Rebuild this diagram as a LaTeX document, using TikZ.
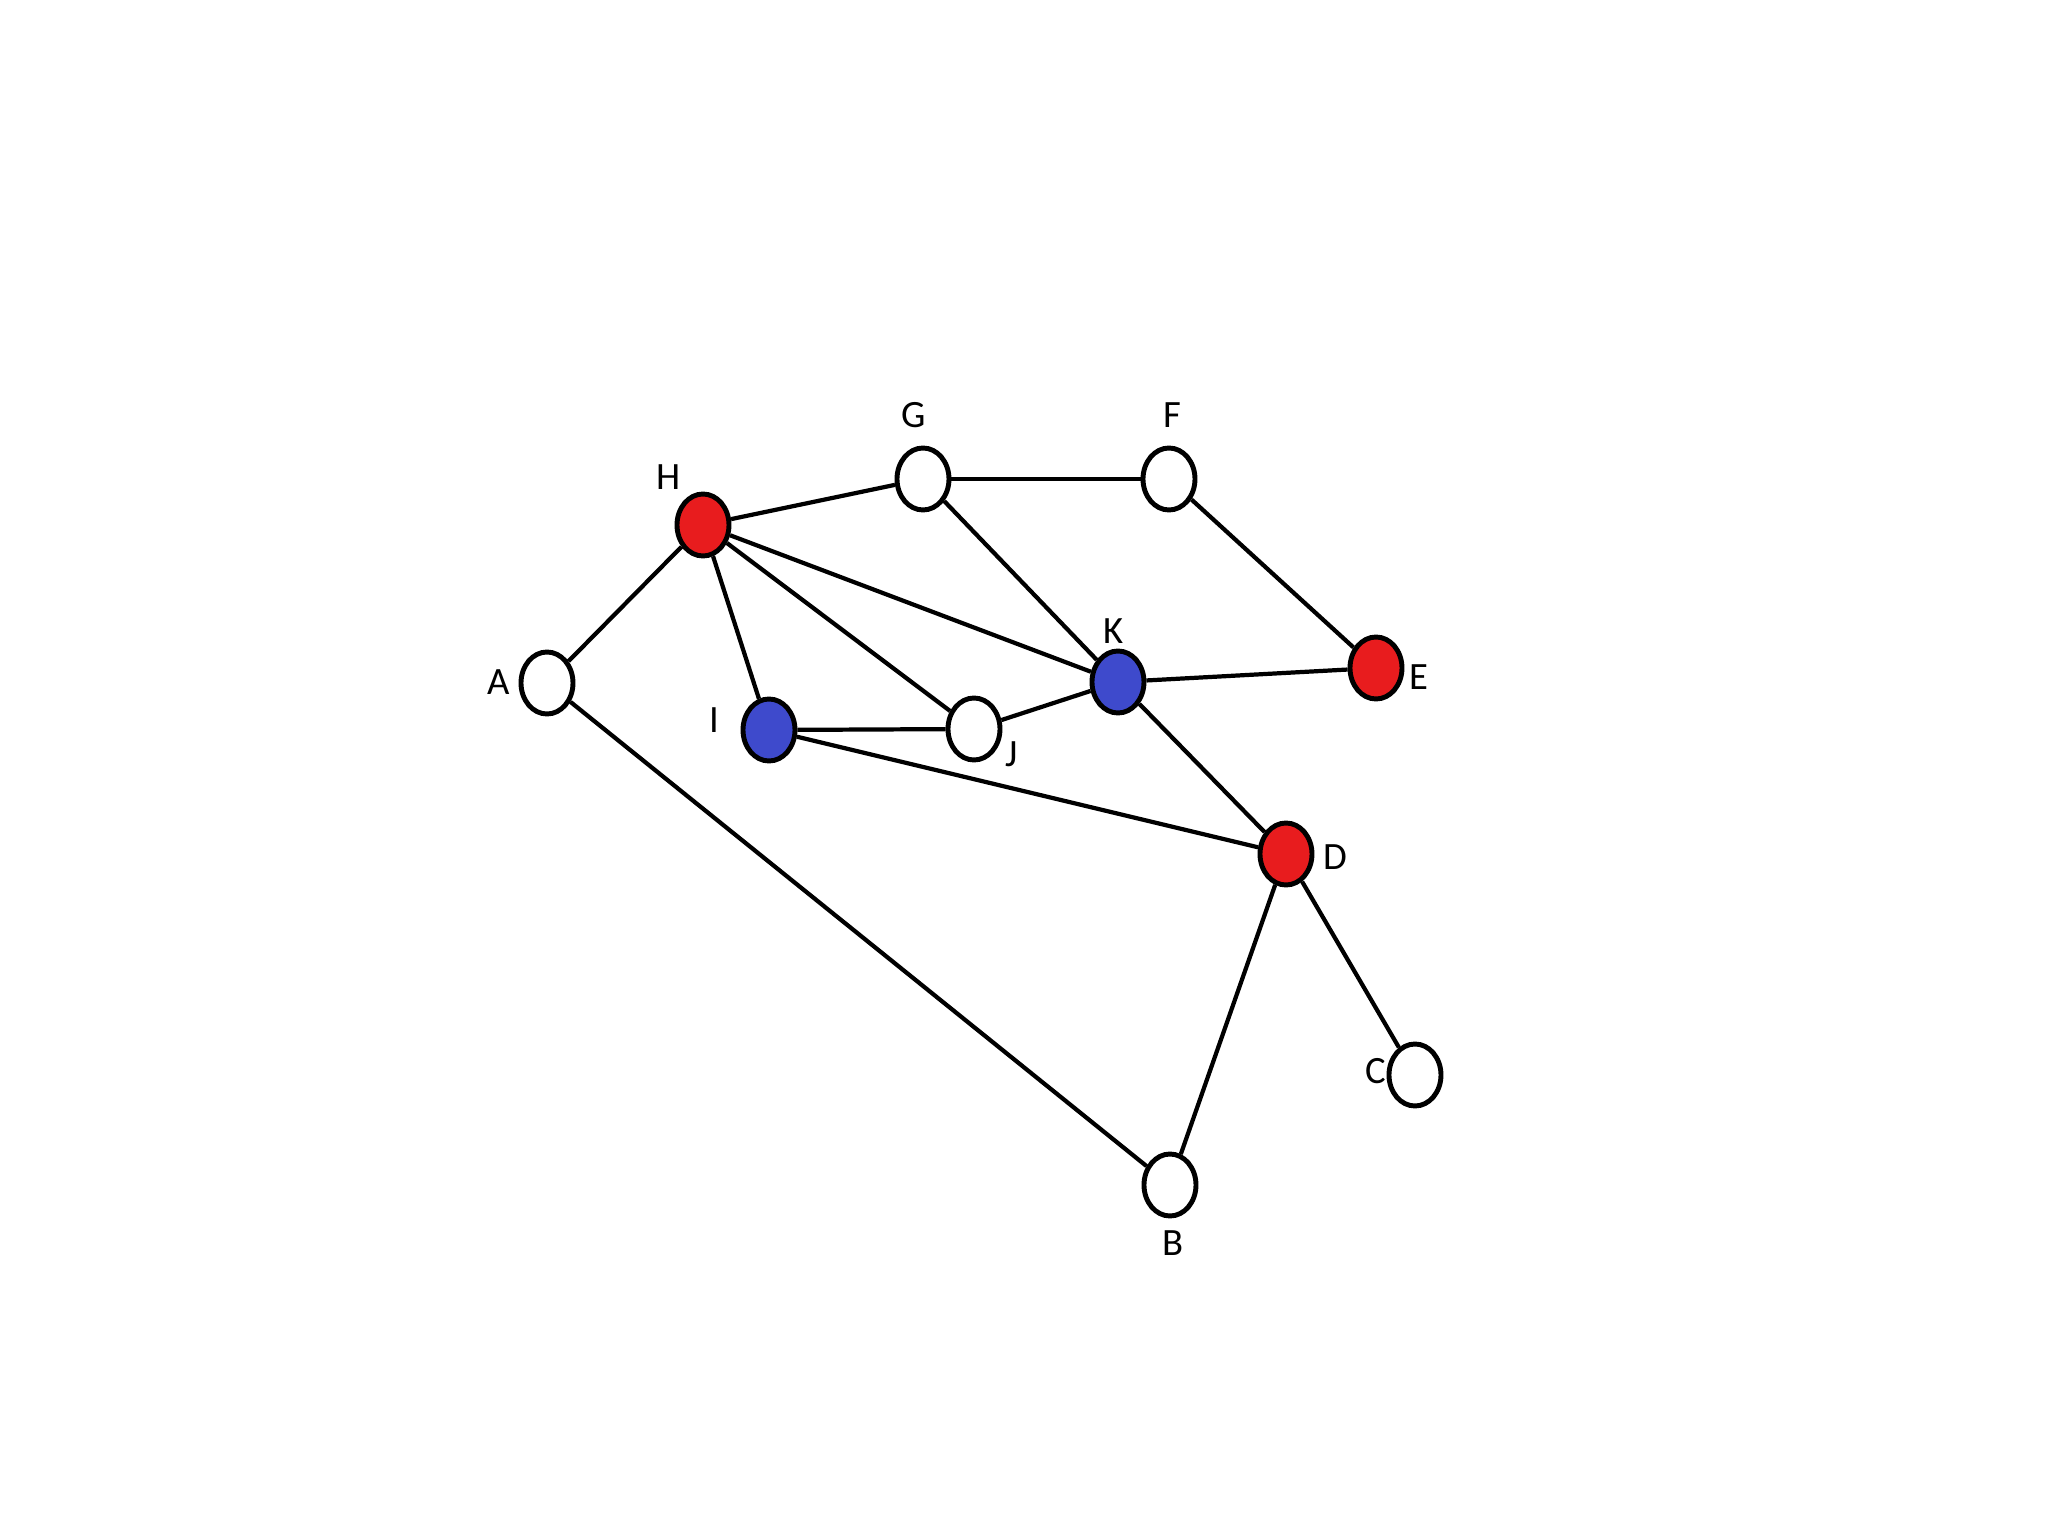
\documentclass[tikz,border=0pt]{standalone}
\usepackage{fontspec}
\setmainfont{Carlito}
\usetikzlibrary{shapes.geometric, positioning}
\definecolor{vred}{RGB}{232, 28, 30}
\definecolor{vblue}{RGB}{62, 74, 204}

\begin{document}
\begin{tikzpicture}[
        vert/.style={ellipse, draw, line width=1.4pt, fill=white, minimum width=0.52cm, minimum height=0.62cm, inner sep=0pt},
        redv/.style={vert, fill=vred},
        bluev/.style={vert, fill=vblue},
        lbl/.style={font=\fontsize{11}{13}\selectfont, inner sep=0pt},
        edge/.style={line width=1.2pt}
    ]
        % Page
        \useasboundingbox[fill=white] (0,0) rectangle (20.48,-15.36);

        % Top row
        \node[redv] (h) at (7.03,-5.25) {};
        \node[vert] (g) at (9.23,-4.79) {};
        \node[vert] (f) at (11.69,-4.79) {};

        % Middle row
        \node[vert] (a) at (5.47,-6.83) {};
        \node[bluev] (i) at (7.69,-7.30) {};
        \node[vert] (j) at (9.74,-7.29) {};
        \node[bluev] (k) at (11.18,-6.82) {};
        \node[redv] (e) at (13.76,-6.68) {};

        % Bottom
        \node[redv] (d) at (12.86,-8.54) {};
        \node[vert] (c) at (14.15,-10.75) {};
        \node[vert] (b) at (11.70,-11.85) {};

        % Labels
        \node[lbl] (hl) at (6.69,-4.77) {H};
        \node[lbl] (gl) at (9.14,-4.15) {G};
        \node[lbl] (fl) at (11.72,-4.15) {F};
        \node[lbl] (kl) at (11.14,-6.31) {K};
        \node[lbl] (el) at (14.19,-6.77) {E};
        \node[lbl] (al) at (4.99,-6.82) {A};
        \node[lbl] (il) at (7.14,-7.20) {I};
        \node[lbl] (jl) at (10.12,-7.54) {J};
        \node[lbl] (dl) at (13.35,-8.57) {D};
        \node[lbl] (cl) at (13.76,-10.71) {C};
        \node[lbl] (bl) at (11.73,-12.43) {B};

        % Edges
        \draw[edge] (h) -- (g);
        \draw[edge] (g) -- (f);
        \draw[edge] (f) -- (e);
        \draw[edge] (h) -- (a);
        \draw[edge] (h) -- (i);
        \draw[edge] (h) -- (j);
        \draw[edge] (h) -- (k);
        \draw[edge] (g) -- (k);
        \draw[edge] (k) -- (e);
        \draw[edge] (k) -- (j);
        \draw[edge] (i) -- (j);
        \draw[edge] (i) -- (d);
        \draw[edge] (k) -- (d);
        \draw[edge] (a) -- (b);
        \draw[edge] (d) -- (b);
        \draw[edge] (d) -- (c);
    \end{tikzpicture}
\end{document}
